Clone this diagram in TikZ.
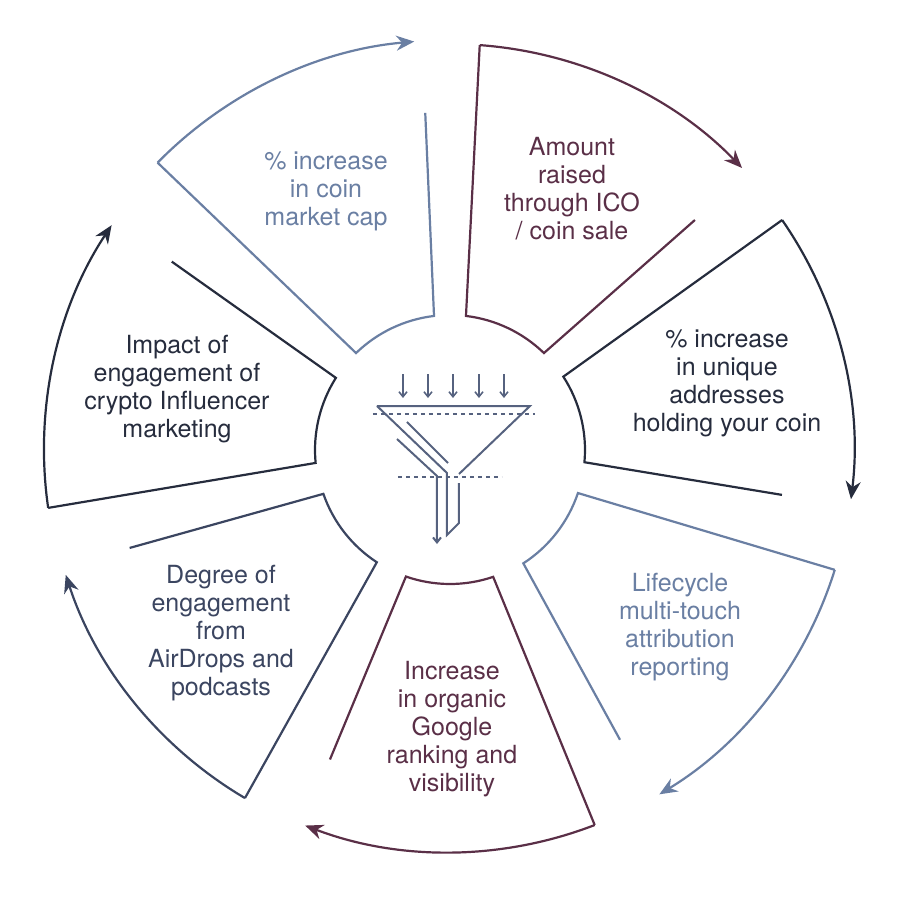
\documentclass[tikz,border=0pt]{standalone}
\usepackage{fontspec}
\setmainfont{TeX Gyre Heros}
\usetikzlibrary{arrows.meta}
\definecolor{cslate}{HTML}{6A7FA3}
\definecolor{cplum}{HTML}{5A2F47}
\definecolor{cnavy}{HTML}{262C3D}
\definecolor{cgray}{HTML}{3B4560}
\definecolor{cfun}{HTML}{56627F}
\begin{document}
\begin{tikzpicture}[x=1pt,y=1pt,
  seg/.style={line width=2.2pt,line join=miter},
  arr/.style={line width=2.2pt,-{Stealth[length=18pt,width=15pt]}},
  lbl/.style={align=center,font=\fontsize{25}{28}\selectfont},
  fun/.style={line width=2pt,cfun},
  fund/.style={line width=1.4pt,cfun,dash pattern=on 4pt off 4pt}]
\useasboundingbox (-450,-450) rectangle (450,450);
\coordinate (C) at (0,0);
% segment 1
\draw[seg,cslate] (135.5:410) coordinate (O1) -- (134.1:135) arc[start angle=134.1,end angle=96.8,radius=135] -- (94.2:338) coordinate (R1);
\draw[arr,cslate] (O1) arc[start angle=135.5,end angle=95,radius=410];
% segment 2
\draw[seg,cplum] (85.8:406) coordinate (O2) -- (83.2:135) arc[start angle=83.2,end angle=45.9,radius=135] -- (43.2:336) coordinate (R2);
\draw[arr,cplum] (O2) arc[start angle=85.8,end angle=44,radius=406];
% segment 3
\draw[seg,cnavy] (34.7:404) coordinate (O3) -- (32.9:135) arc[start angle=32.9,end angle=-5.2,radius=135] -- (-7.7:335) coordinate (R3);
\draw[arr,cnavy] (O3) arc[start angle=34.7,end angle=-7,radius=404];
% segment 4
\draw[seg,cslate] (-17.3:403) coordinate (O4) -- (-18.6:135) arc[start angle=-18.6,end angle=-57.1,radius=135] -- (-59.6:336) coordinate (R4);
\draw[arr,cslate] (O4) arc[start angle=-17.3,end angle=-58.7,radius=403];
% segment 5
\draw[seg,cplum] (-68.9:402) coordinate (O5) -- (-71.2:134) arc[start angle=-71.2,end angle=-109.2,radius=134] -- (-111.2:332) coordinate (R5);
\draw[arr,cplum] (O5) arc[start angle=-68.9,end angle=-110.9,radius=404];
% segment 6
\draw[seg,cgray] (-120.5:404) coordinate (O6) -- (-123.1:134) arc[start angle=-123.1,end angle=-160.9,radius=134] -- (-163:335) coordinate (R6);
\draw[arr,cgray] (O6) arc[start angle=-120.5,end angle=-162,radius=404];
% segment 7
\draw[seg,cnavy] (188.2:406) coordinate (O7) -- (185.5:135) arc[start angle=185.5,end angle=147.7,radius=135] -- (145.9:336) coordinate (R7);
\draw[arr,cnavy] (O7) arc[start angle=188.2,end angle=146.5,radius=407];
% labels
\node[lbl,text=cslate] (t1) at (-124,259) {\% increase\\in coin\\market cap};
\node[lbl,text=cplum] (t2) at (122,261) {Amount\\raised\\through ICO\\/ coin sale};
\node[lbl,text=cnavy] (t3) at (277,67) {\% increase\\in unique\\addresses\\holding your coin};
\node[lbl,text=cslate] (t4) at (230,-177) {Lifecycle\\multi-touch\\attribution\\reporting};
\node[lbl,text=cplum] (t5) at (2,-279) {Increase\\in organic\\Google\\ranking and\\visibility};
\node[lbl,text=cgray] (t6) at (-229,-183) {Degree of\\engagement\\from\\AirDrops and\\podcasts};
\node[lbl,text=cnavy] (t7) at (-273,61) {Impact of\\engagement of\\crypto Influencer\\marketing};
% funnel
\foreach \x in {-47,-22,3,29,54}
  \draw[fun,line width=1.6pt,-{Straight Barb[length=5pt,width=8pt]}] (\x,76) -- (\x,52);
\draw[fun,line join=miter] (-73,44) -- (80,44) -- (9,-24);
\draw[fun,line join=miter] (-73,44) -- (-3,-23) -- (-3,-85) -- (9,-73) -- (9,-33);
\draw[fun] (-43,28) -- (-2,-13);
\draw[fun,-{Straight Barb[length=5pt,width=8pt]}] (-53,11) -- (-13,-26) -- (-13,-94);
\draw[fund] (-77,36) -- (85,36);
\draw[fund] (-52,-27) -- (52,-27);
\end{tikzpicture}
\end{document}
